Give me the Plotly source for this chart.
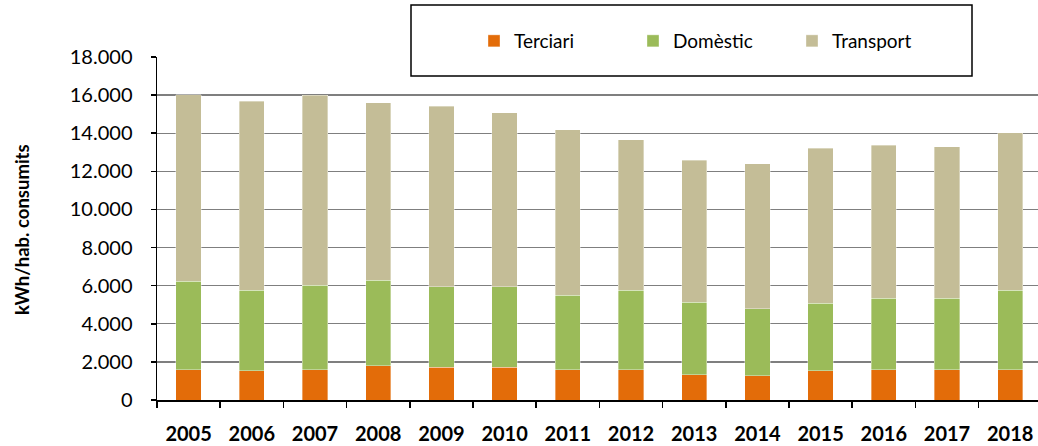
import plotly.graph_objects as go

years = ["2005", "2006", "2007", "2008", "2009", "2010", "2011",
         "2012", "2013", "2014", "2015", "2016", "2017", "2018"]
terciari = [1600, 1530, 1600, 1790, 1720, 1720, 1600,
            1600, 1330, 1260, 1530, 1600, 1600, 1600]
domestic = [4630, 4220, 4420, 4490, 4230, 4230, 3890,
            4150, 3790, 3530, 3540, 3730, 3730, 4150]
transport = [9800, 9930, 9980, 9310, 9470, 9120, 8690,
             7900, 7460, 7610, 8140, 8050, 7970, 8280]

series_names = ["Terciari", "Domèstic", "Transport"]
series_values = [terciari, domestic, transport]
colors = ["#E36C09", "#9BBB59", "#C4BD97"]

FONT = "Lato"

fig = go.Figure()
for name, vals, col in zip(series_names, series_values, colors):
    fig.add_trace(go.Bar(
        x=years, y=vals, name=name,
        marker=dict(color=col, line=dict(color="rgba(255,255,255,0.6)", width=0.6)),
    ))

W, H = 1038, 446
ML, MR, MT, MB = 157, 0, 57, 46
PW = W - ML - MR
PH = H - MT - MB

def px_x(px):
    return (px - ML) / PW

def px_y(py):
    return (H - MB - py) / PH

fig.update_layout(
    width=W, height=H,
    barmode="stack", bargap=0.6,
    margin=dict(l=ML, r=MR, t=MT, b=MB, autoexpand=False),
    paper_bgcolor="white", plot_bgcolor="white",
    separators=",.",
    font=dict(family=FONT, color="black"),
    showlegend=True,
    legend=dict(
        orientation="h",
        x=px_x(474), y=px_y(41), xanchor="left", yanchor="middle",
        font=dict(size=19, family=FONT, color="black"),
        bgcolor="rgba(0,0,0,0)", borderwidth=0,
        itemwidth=30, entrywidth=114, entrywidthmode="pixels",
        traceorder="normal",
    ),
    xaxis=dict(
        type="category", range=[-0.5, 13.44],
        showline=True, linecolor="black", linewidth=1.5,
        ticks="outside", ticklen=6, tickcolor="black", tickwidth=1.5,
        tickson="boundaries", showgrid=False,
        tickfont=dict(size=20, family=FONT, color="black", weight="bold"),
        ticklabelstandoff=15,
    ),
    yaxis=dict(
        range=[0, 18000], dtick=2000, tickformat=",d",
        showline=True, linecolor="black", linewidth=1.5,
        ticks="outside", ticklen=5, tickcolor="black", tickwidth=1.5,
        showgrid=True, gridcolor="#7F7F7F", gridwidth=1.3,
        zeroline=False,
        tickfont=dict(size=20, family=FONT, color="black"),
        ticklabelstandoff=14,
    ),
    shapes=[dict(
        type="rect", xref="paper", yref="paper",
        x0=px_x(411), x1=px_x(972), y0=px_y(76), y1=px_y(5),
        line=dict(color="black", width=1.5), fillcolor="white", layer="above",
    )],
    annotations=[dict(
        text="<b>kWh/hab. consumits</b>", textangle=-90,
        xref="paper", yref="paper", x=px_x(22), y=px_y(230),
        xanchor="center", yanchor="middle", showarrow=False,
        font=dict(size=18.5, family=FONT, color="black"),
    )],
)

fig.write_html(
    "out.html",
    config={"displayModeBar": False, "staticPlot": True},
    post_script="document.body.style.margin='0';document.body.style.overflow='hidden';",
)
